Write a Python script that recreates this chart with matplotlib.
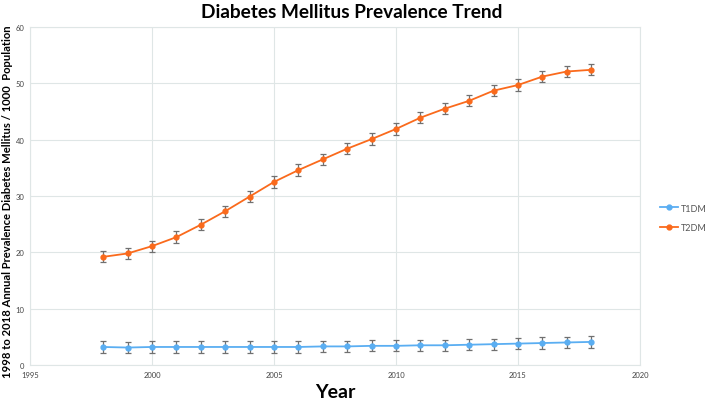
import matplotlib
matplotlib.use("Agg")
import matplotlib.pyplot as plt
from matplotlib.lines import Line2D

years = list(range(1998, 2019))
t1dm = [3.2, 3.1, 3.2, 3.2, 3.2, 3.2, 3.2, 3.2, 3.2, 3.3, 3.3, 3.4, 3.4, 3.5, 3.5, 3.6, 3.7, 3.8, 3.9, 4.0, 4.1]
t1dm_err = [1.0] * 21
t2dm = [19.2, 19.8, 21.1, 22.7, 24.9, 27.3, 29.9, 32.5, 34.6, 36.5, 38.4, 40.1, 41.9, 43.9, 45.5, 46.9, 48.7, 49.7, 51.2, 52.1, 52.4]
t2dm_err = [1.0] * 21
xticks = [1995, 2000, 2005, 2010, 2015, 2020]
yticks = [0, 10, 20, 30, 40, 50, 60]
labels = ['T1DM', 'T2DM']

plt.rcParams['font.family'] = ['Lato', 'DejaVu Sans']

fig = plt.figure(figsize=(7.08, 4.02), dpi=100)
ax = fig.add_axes([30/708, 36/402, 610/708, 338/402])

blue = '#5aaef2'
orange = '#fa6a1c'
ecol = '#707070'

handles = []
for vals, errs, col in [(t1dm, t1dm_err, blue), (t2dm, t2dm_err, orange)]:
    ax.errorbar(years, vals, yerr=errs, color=col, marker='o', markersize=3.5,
                linewidth=1.3, ecolor=ecol, elinewidth=0.9, capsize=2, capthick=0.9, zorder=3)
    handles.append(Line2D([], [], color=col, marker='o', markersize=3.5, linewidth=1.3))

ax.set_xlim(1995, 2020)
ax.set_ylim(0, 60)
ax.set_xticks(xticks)
ax.set_yticks(yticks)
ax.tick_params(axis='both', labelsize=5.5, colors='#444444', length=0, pad=4)
ax.grid(True, color='#dfe6e6', linewidth=0.8)
ax.set_axisbelow(True)
for s in ax.spines.values():
    s.set_color('#dfe6e6')
    s.set_linewidth(0.8)

fig.text(352/708, 1 - 12/402, 'Diabetes Mellitus Prevalence Trend', ha='center', va='center',
         fontsize=13.7, fontweight='bold')
fig.text(335/708, 1 - 393/402, 'Year', ha='center', va='center', fontsize=14, fontweight='bold')
fig.text(8/708, 1 - 202/402, '1998 to 2018 Annual Prevalence Diabetes Mellitus / 1000  Population',
         ha='center', va='center', rotation=90, fontsize=8.1, fontweight='bold')

ax.legend(handles, labels, loc='center left', bbox_to_anchor=(1.02, 0.435), frameon=False, fontsize=6.5,
          handlelength=2.0, handletextpad=0.3, labelspacing=1.2, labelcolor='#555555')

fig.savefig('out.png', dpi=100)
